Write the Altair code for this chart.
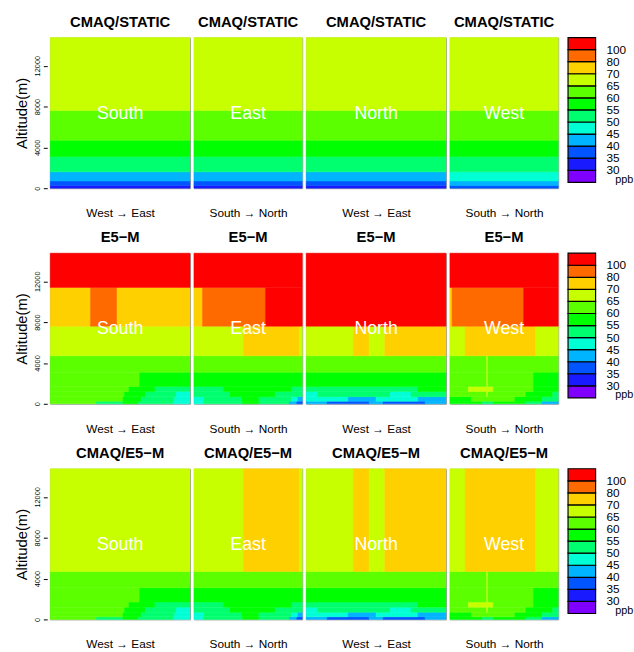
import altair as alt
import pandas as pd

FONT = "Liberation Sans"

# ozone classes: 0 (<30) ... 11 (>100)
CLASS_COLORS = ["#8000FF", "#1A1AFF", "#0055FF", "#00B4FF", "#00FFD5", "#00FF6E",
                "#00FF00", "#5CFF00", "#C8FF00", "#FFD000", "#FF6A00", "#FF0000"]
LEGEND_LABELS = ["30", "35", "40", "45", "50", "55", "60", "65", "70", "80", "100"]
ROW_TITLES = ["CMAQ/STATIC", "E5\u2212M", "CMAQ/E5\u2212M"]
DIRECTIONS = ["South", "East", "North", "West"]
X_TITLES = ["West \u2192 East", "South \u2192 North", "West \u2192 East", "South \u2192 North"]
PANEL_WIDTHS = [142, 110, 142, 110]
PANEL_HEIGHT = 153
ALT_TOP = 14750
Y_TICKS = [0, 2000, 4000, 6000, 8000, 10000, 12000, 14000]
LABEL_ALT = 7300

# bands: (altitude low, altitude high, [(x end fraction, class), ...])
STATIC_COMMON = [
    (0, 260, [(1, 1)]), (260, 700, [(1, 2)]), (700, 1600, [(1, 3)]),
    (1600, 3100, [(1, 5)]), (3100, 4700, [(1, 6)]), (4700, 7600, [(1, 7)]),
    (7600, ALT_TOP, [(1, 8)]),
]
STATIC_WEST = [
    (0, 260, [(1, 2)]), (260, 700, [(1, 3)]), (700, 1600, [(1, 4)]),
    (1600, 3100, [(1, 5)]), (3100, 4700, [(1, 6)]), (4700, 7600, [(1, 7)]),
    (7600, ALT_TOP, [(1, 8)]),
]

E5M_LOW_SOUTH = [
    (0, 250, [(0.33, 7), (0.52, 5), (0.63, 6), (0.88, 5), (1, 4)]),
    (250, 700, [(0.52, 7), (0.65, 6), (0.89, 5), (1, 4)]),
    (700, 1200, [(0.53, 7), (0.68, 6), (0.9, 5), (1, 4)]),
    (1200, 1700, [(0.562, 7), (0.749, 6), (1, 5)]),
    (1700, 3100, [(0.639, 7), (1, 6)]),
    (3100, 4700, [(1, 7)]),
]
E5M_LOW_EAST = [
    (0, 250, [(0.09, 4), (0.45, 5), (0.6, 6), (0.88, 5), (0.95, 3), (1, 2)]),
    (250, 700, [(0.09, 4), (0.44, 5), (0.6, 6), (0.9, 5), (0.96, 4), (1, 3)]),
    (700, 1200, [(0.33, 5), (0.75, 6), (1, 5)]),
    (1200, 1700, [(0.27, 5), (0.9, 6), (1, 5)]),
    (1700, 3100, [(1, 6)]),
    (3100, 4700, [(1, 7)]),
]
E5M_LOW_NORTH = [
    (0, 250, [(0.15, 3), (0.45, 2), (0.55, 3), (0.85, 2), (1, 3)]),
    (250, 700, [(0.3, 4), (0.5, 3), (0.8, 4), (1, 3)]),
    (700, 1200, [(0.08, 4), (0.6, 5), (0.75, 4), (1, 5)]),
    (1200, 1700, [(0.8, 5), (1, 6)]),
    (1700, 3100, [(1, 6)]),
    (3100, 4700, [(1, 7)]),
]
E5M_LOW_WEST = [
    (0, 250, [(0.3, 6), (0.4, 5), (0.7, 6), (0.85, 5), (1, 3)]),
    (250, 700, [(0.2, 6), (0.6, 7), (0.85, 6), (1, 5)]),
    (700, 1200, [(0.34, 7), (0.352, 8), (0.7, 7), (0.95, 6), (1, 5)]),
    (1200, 1700, [(0.17, 7), (0.4, 8), (0.77, 7), (1, 6)]),
    (1700, 3100, [(0.34, 7), (0.352, 8), (0.77, 7), (1, 6)]),
    (3100, 4700, [(0.34, 7), (0.352, 8), (1, 7)]),
]

E5M_MID_SOUTH = [(1, 8)]
E5M_MID_EAST = [(0.455, 8), (0.973, 9), (1, 8)]
E5M_MID_NORTH = [(0.337, 8), (0.45, 9), (0.562, 8), (1, 9)]
E5M_MID_WEST = [(0.14, 8), (0.793, 9), (1, 8)]

E5M_HIGH_SOUTH = [(7600, 11400, [(0.288, 9), (0.478, 10), (1, 9)]), (11400, ALT_TOP, [(1, 11)])]
E5M_HIGH_EAST = [(7600, 11400, [(0.079, 9), (0.66, 10), (1, 11)]), (11400, ALT_TOP, [(1, 11)])]
E5M_HIGH_NORTH = [(7600, ALT_TOP, [(1, 11)])]
E5M_HIGH_WEST = [(7600, 11400, [(0.02, 9), (0.68, 10), (1, 11)]), (11400, ALT_TOP, [(1, 11)])]

E5M_LOW = [E5M_LOW_SOUTH, E5M_LOW_EAST, E5M_LOW_NORTH, E5M_LOW_WEST]
E5M_MID = [E5M_MID_SOUTH, E5M_MID_EAST, E5M_MID_NORTH, E5M_MID_WEST]
E5M_HIGH = [E5M_HIGH_SOUTH, E5M_HIGH_EAST, E5M_HIGH_NORTH, E5M_HIGH_WEST]

ROW_BANDS = [
    [STATIC_COMMON, STATIC_COMMON, STATIC_COMMON, STATIC_WEST],
    [E5M_LOW[i] + [(4700, 7600, E5M_MID[i])] + E5M_HIGH[i] for i in range(4)],
    [E5M_LOW[i] + [(4700, ALT_TOP, E5M_MID[i])] for i in range(4)],
]


def bands_to_df(bands):
    rows = []
    for lo, hi, segs in bands:
        x0 = 0
        for xe, c in segs:
            rows.append({"x0": x0, "x1": xe, "y0": lo, "y1": hi, "c": c})
            x0 = xe
    return pd.DataFrame(rows)


cscale = alt.Scale(domain=list(range(12)), range=CLASS_COLORS)
xscale = alt.Scale(domain=[0, 1], nice=False, zero=False)
yscale = alt.Scale(domain=[0, ALT_TOP], nice=False, zero=False)

yaxis = alt.Axis(
    title="Altitude(m)", values=Y_TICKS, format="d",
    labelExpr="datum.value % 4000 == 0 ? datum.label : ''",
    labelAngle=270, labelAlign="center", labelBaseline="bottom",
    labelFontSize=7.5, labelFont=FONT, labelColor="black", labelPadding=2,
    labelOverlap=False, labelFlush=False,
    tickSize=4, tickColor="black", tickWidth=1, offset=3,
    domain=False, grid=False,
    titleFontSize=15, titleFontWeight="normal", titleFont=FONT,
    titleColor="black", titlePadding=4,
)


def panel(df, title, xtitle, direction, width, show_y):
    xaxis = alt.Axis(title=xtitle, labels=False, ticks=False, domain=False, grid=False,
                     titleFontSize=12, titleFontWeight="normal", titleFont=FONT,
                     titleColor="black", titlePadding=20)
    rect = alt.Chart(df).mark_rect(strokeWidth=0.5).encode(
        x=alt.X("x0:Q", scale=xscale, axis=xaxis),
        x2="x1:Q",
        y=alt.Y("y0:Q", scale=yscale, axis=yaxis if show_y else None),
        y2="y1:Q",
        color=alt.Color("c:O", scale=cscale, legend=None),
        stroke=alt.Stroke("c:O", scale=cscale, legend=None),
    )
    lab = alt.Chart(pd.DataFrame({"x": [0.5], "y": [LABEL_ALT], "t": [direction]})).mark_text(
        color="white", fontSize=18, font=FONT, baseline="middle", align="center"
    ).encode(
        x=alt.X("x:Q", scale=xscale),
        y=alt.Y("y:Q", scale=yscale),
        text="t:N",
    )
    return alt.layer(rect, lab).properties(
        width=width, height=PANEL_HEIGHT,
        title=alt.TitleParams(title, fontSize=15, fontWeight="bold", font=FONT,
                              color="black", offset=8),
    )


def legend_chart():
    lscale = alt.Scale(domain=[-0.49, 12], nice=False, zero=False)
    ldf = pd.DataFrame({"c": list(range(12)), "lo": list(range(12)),
                        "hi": [i + 1 for i in range(12)]})
    boxes = alt.Chart(ldf).mark_rect(stroke="black", strokeWidth=1.2).encode(
        x=alt.value(0), x2=alt.value(28),
        y=alt.Y("lo:Q", scale=lscale, axis=None), y2="hi:Q",
        color=alt.Color("c:O", scale=cscale, legend=None),
    )
    tdf = pd.DataFrame({"pos": list(range(1, 12)), "t": LEGEND_LABELS})
    labels = alt.Chart(tdf).mark_text(align="left", baseline="middle", fontSize=12,
                                      font=FONT, color="black").encode(
        x=alt.value(39), y=alt.Y("pos:Q", scale=lscale, axis=None), text="t:N")
    ppb = alt.Chart(pd.DataFrame({"pos": [0.2], "t": ["ppb"]})).mark_text(
        align="left", baseline="middle", fontSize=11, font=FONT, color="black").encode(
        x=alt.value(48), y=alt.Y("pos:Q", scale=lscale, axis=None), text="t:N")
    return alt.layer(boxes, labels, ppb).properties(
        width=40, height=PANEL_HEIGHT, view=alt.ViewBackground(stroke="transparent"))


rows = []
for r in range(3):
    panels = [
        panel(bands_to_df(ROW_BANDS[r][i]), ROW_TITLES[r], X_TITLES[i], DIRECTIONS[i],
              PANEL_WIDTHS[i], i == 0)
        for i in range(4)
    ]
    rows.append(alt.hconcat(alt.hconcat(*panels, spacing=2), legend_chart(), spacing=7))

chart = alt.vconcat(*rows, spacing=10).properties(
    padding={"left": 14, "top": 9, "right": 0, "bottom": 0},
    background="white",
).configure_view(stroke="#9c9c9c", strokeWidth=1).configure_concat(spacing=2)

chart.save("out.html", embed_options={"renderer": "svg", "actions": False})
